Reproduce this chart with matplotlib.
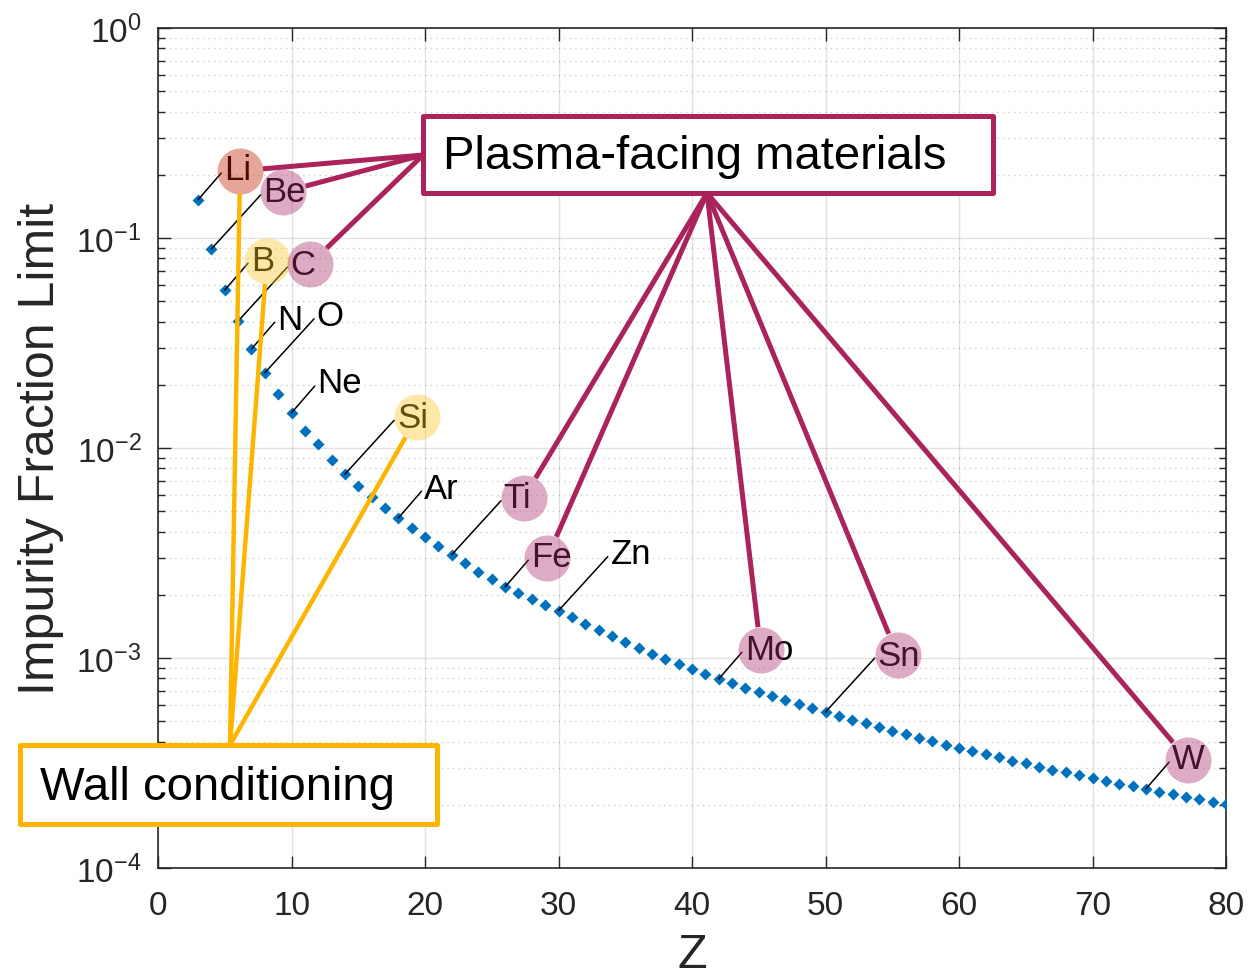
import numpy as np
import matplotlib
matplotlib.use("Agg")
import matplotlib.pyplot as plt
from matplotlib.patches import Rectangle
from matplotlib.lines import Line2D
from matplotlib.transforms import offset_copy

# impurity fraction limit per atomic number
z = list(range(3, 81))
frac_limit = [
    0.152, 0.0887, 0.0565, 0.0402, 0.0296, 0.0228, 0.0181, 0.0147,        # 3-10
    0.0121, 0.0104, 0.0088, 0.0075, 0.0066, 0.00582, 0.00519, 0.00464,    # 11-18
    0.00417, 0.00376, 0.0034, 0.0031, 0.00282, 0.00258, 0.00237, 0.00218, # 19-26
    0.00203, 0.00191, 0.00179, 0.00168, 0.00156, 0.00145, 0.00136, 0.00127,  # 27-34
    0.00119, 0.00112, 0.00105, 0.00099, 0.000935, 0.000885, 0.000838, 0.000794,  # 35-42
    0.000757, 0.000722, 0.000689, 0.000658, 0.000629, 0.000603, 0.000578, 0.000553,  # 43-50
    0.00053, 0.000508, 0.000488, 0.000469, 0.000451, 0.000434, 0.000417, 0.000402,  # 51-58
    0.000387, 0.000374, 0.00036, 0.000348, 0.000336, 0.000325, 0.000315, 0.000304,  # 59-66
    0.000294, 0.000285, 0.000277, 0.000268, 0.00026, 0.000252, 0.000245, 0.000238,  # 67-74
    0.000231, 0.000225, 0.000219, 0.000213, 0.000207, 0.000202,  # 75-80
]

el_names = ["Li", "Be", "B", "C", "N", "O", "Ne", "Si", "Ar", "Ti", "Fe", "Zn", "Mo", "Sn", "W"]
el_z = [3, 4, 5, 6, 7, 8, 10, 14, 18, 22, 26, 30, 42, 50, 74]
el_far = [False, True, False, True, False, True, False, True, False, True, False, True, False, True, False]

pfm_names = ["Li", "Be", "C", "Ti", "Fe", "Mo", "Sn", "W"]
wall_names = ["Li", "B", "Si"]

BLUE = "#0072BD"
MAGENTA = "#AA235A"
ORANGE = "#FFB400"
DARK = "#262626"

plt.rcParams["font.family"] = ["Liberation Sans", "DejaVu Sans"]
plt.rcParams["mathtext.default"] = "regular"
plt.rcParams["axes.unicode_minus"] = False

W, H = 1248, 978
fig = plt.figure(figsize=(W / 100, H / 100), dpi=100)
ax = fig.add_axes([158 / W, 1 - 869 / H, (1226 - 158) / W, (869 - 29) / H])

ax.plot(z, frac_limit, "D", color=BLUE, ms=6.5, mec="none", zorder=3)

ax.set_yscale("log")
ax.set_xlim(0, 80)
ax.set_ylim(1e-4, 1)
ax.set_xticks(range(0, 81, 10))

ax.grid(True, which="major", color=DARK, alpha=0.13, lw=1)
ax.grid(True, which="minor", axis="y", color=DARK, alpha=0.22, lw=1, ls=(0, (1, 3)))
ax.set_axisbelow(True)

ax.tick_params(which="both", direction="in", top=True, right=True, colors=DARK, labelsize=24)
ax.tick_params(which="major", length=9, width=1)
ax.tick_params(which="minor", length=5, width=1)
ax.tick_params(axis="x", pad=16)
ax.tick_params(axis="y", pad=12)
for sp in ax.spines.values():
    sp.set_color(DARK)
    sp.set_linewidth(1.2)

ax.set_ylabel("Impurity Fraction Limit", fontsize=36, color=DARK)
ax.yaxis.set_label_coords(-0.088, 0.5)
ax.set_xlabel("Z", fontsize=35, color=DARK)
ax.xaxis.set_label_coords(0.5, -0.076)

# element labels with leader lines
circle_r = 23
centers = {}
for name, zv, far in zip(el_names, el_z, el_far):
    fv = frac_limit[z.index(zv)]
    off = (52, 57) if far else (26, 30)
    ax.annotate(name, xy=(zv, fv), xytext=off, textcoords="offset pixels",
                ha="left", va="center", fontsize=25, color="black", zorder=4,
                arrowprops=dict(arrowstyle="-", color="black", lw=1.1,
                                shrinkA=0, shrinkB=0, relpos=(0, 0.5)))
    if name in pfm_names or name in wall_names:
        cx, cy = (72, 57) if far else (42, 29)
        if name in pfm_names and name in wall_names:
            col = "#BE1E00"
        elif name in pfm_names:
            col = "#AC2F6B"
        else:
            col = "#FCC52A"
        tr = offset_copy(ax.transData, fig=fig, x=cx, y=cy, units="dots")
        ax.plot([zv], [fv], "o", ms=2 * circle_r * 0.72, mfc=col, mec="none",
                alpha=0.4, transform=tr, zorder=5, clip_on=False)
        px, py = ax.transData.transform((zv, fv))
        centers[name] = (px + cx, py + cy)


def callout(name, anchor, color, lw):
    cx, cy = centers[name]
    ax_, ay_ = anchor[0], H - anchor[1]
    d = np.array([ax_ - cx, ay_ - cy])
    d = d / np.hypot(*d)
    sx, sy = cx + circle_r * d[0], cy + circle_r * d[1]
    fig.add_artist(Line2D([sx / W, ax_ / W], [sy / H, ay_ / H], transform=fig.transFigure,
                          color=color, lw=lw, solid_capstyle="butt", zorder=6))


for name in pfm_names:
    anchor = (423, 156) if name in ["Li", "Be", "C"] else (707, 194)
    callout(name, anchor, MAGENTA, 3.6)
for name in wall_names:
    callout(name, (230, 746), ORANGE, 3.2)

# callout boxes
fig.add_artist(Rectangle((423 / W, 1 - 194 / H), (993 - 423) / W, (194 - 117) / H,
                         transform=fig.transFigure, fc="white", ec=MAGENTA, lw=3.6,
                         joinstyle="round", zorder=7))
fig.text(443 / W, 1 - 157 / H, "Plasma-facing materials", fontsize=34, ha="left",
         va="center", color="black", zorder=8)
fig.add_artist(Rectangle((20 / W, 1 - 825 / H), (437 - 20) / W, (825 - 746) / H,
                         transform=fig.transFigure, fc="white", ec=ORANGE, lw=3.6,
                         joinstyle="round", zorder=7))
fig.text(40 / W, 1 - 788 / H, "Wall conditioning", fontsize=34, ha="left",
         va="center", color="black", zorder=8)

fig.savefig("out.png", dpi=100)
